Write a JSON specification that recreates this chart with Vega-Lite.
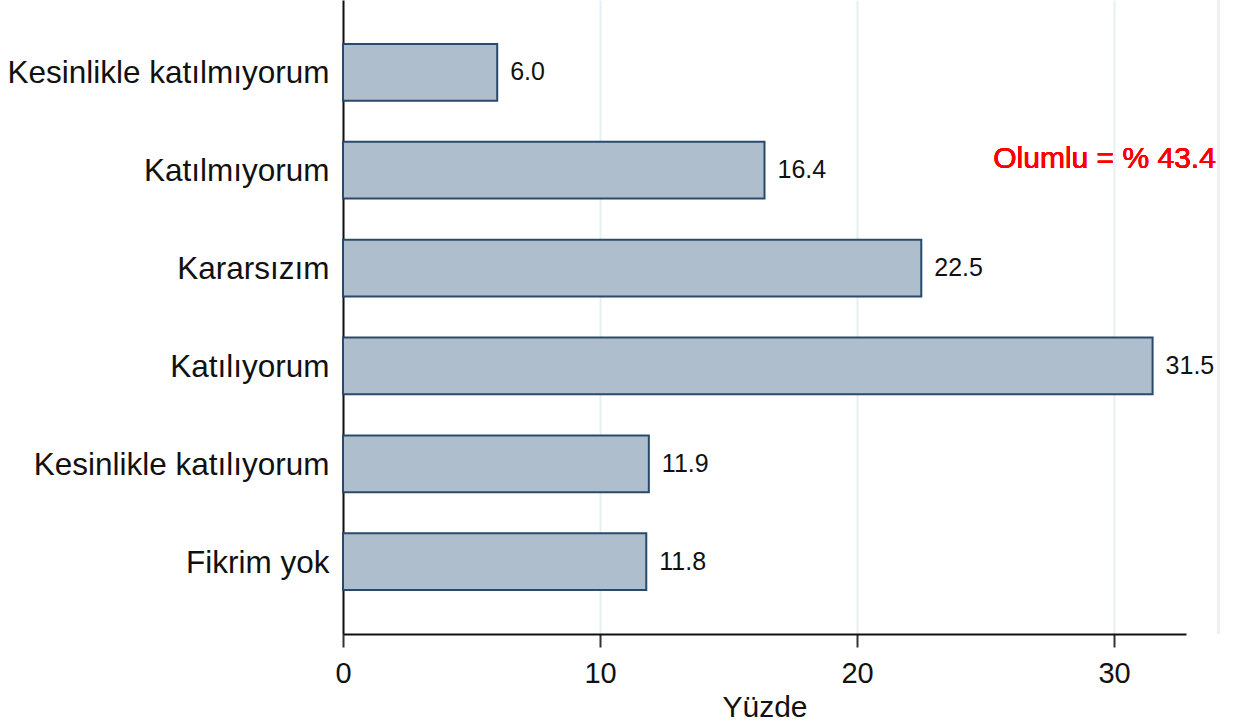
{
  "$schema": "https://vega.github.io/schema/vega-lite/v6.json",
  "width": 843,
  "height": 634,
  "autosize": {"type": "none"},
  "padding": {"left": 343, "top": 0, "right": 48, "bottom": 88},
  "background": "white",
  "config": {
    "view": {"stroke": null},
    "font": "Liberation Sans"
  },
  "data": {
    "values": [
      {"cevap": "Kesinlikle katılmıyorum", "yuzde": 6.0},
      {"cevap": "Katılmıyorum", "yuzde": 16.4},
      {"cevap": "Kararsızım", "yuzde": 22.5},
      {"cevap": "Katılıyorum", "yuzde": 31.5},
      {"cevap": "Kesinlikle katılıyorum", "yuzde": 11.9},
      {"cevap": "Fikrim yok", "yuzde": 11.8}
    ]
  },
  "layer": [
    {
      "mark": {"type": "bar", "fill": "#afbecd", "stroke": "#2a4a6b", "strokeWidth": 2},
      "encoding": {
        "y": {
          "field": "cevap",
          "type": "nominal",
          "sort": null,
          "scale": {"paddingInner": 0.42, "paddingOuter": 0.45},
          "axis": {
            "title": null,
            "ticks": false,
            "labelFont": "Liberation Sans",
            "labelFontSize": 31.5,
            "labelColor": "#111111",
            "labelPadding": 14,
            "labelOffset": 2,
            "domainColor": "#111111",
            "domainWidth": 2,
            "grid": false,
            "labelLimit": 400
          }
        },
        "x": {
          "field": "yuzde",
          "type": "quantitative",
          "scale": {"domain": [0, 32.8], "nice": false, "zero": true},
          "axis": {
            "title": "Yüzde",
            "titleFont": "Liberation Sans",
            "titleFontSize": 30,
            "titleFontWeight": "normal",
            "titleColor": "#111111",
            "titlePadding": 4,
            "values": [0, 10, 20, 30],
            "labelFlush": false,
            "labelFont": "Liberation Sans",
            "labelFontSize": 29,
            "labelColor": "#111111",
            "labelPadding": 12,
            "tickSize": 13,
            "tickWidth": 2,
            "tickColor": "#333333",
            "domainColor": "#111111",
            "domainWidth": 2,
            "grid": true,
            "gridColor": "#e6eff1",
            "gridWidth": 2
          }
        }
      }
    },
    {
      "mark": {"type": "text", "align": "left", "baseline": "middle", "dx": 13, "fontSize": 25, "font": "Liberation Sans", "color": "#111111"},
      "encoding": {
        "y": {"field": "cevap", "type": "nominal", "sort": null},
        "x": {"field": "yuzde", "type": "quantitative"},
        "text": {"field": "yuzde", "type": "quantitative", "format": ".1f"}
      }
    },
    {
      "mark": {"type": "text", "align": "left", "baseline": "middle", "dy": -11, "fontSize": 30, "font": "Liberation Sans", "color": "#ff0000"},
      "encoding": {
        "x": {"datum": 25.3},
        "y": {"datum": "Katılmıyorum"},
        "text": {"value": "Olumlu = % 43.4"}
      }
    },
    {
      "mark": {"type": "rule", "color": "#f0f0f0", "strokeWidth": 2},
      "encoding": {
        "x": {"datum": 34.06}
      }
    }
  ]
}
